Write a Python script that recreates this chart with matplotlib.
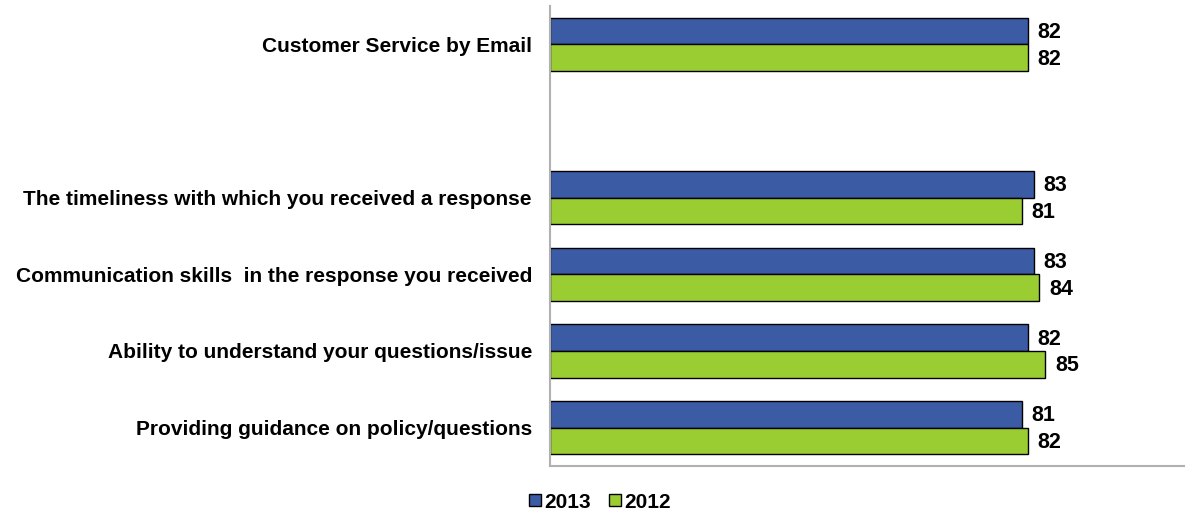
import matplotlib.pyplot as plt
from matplotlib.patches import Patch

categories = ["Customer Service by Email", "",
              "The timeliness with which you received a response",
              "Communication skills  in the response you received",
              "Ability to understand your questions/issue",
              "Providing guidance on policy/questions"]
v2013 = [82, None, 83, 83, 82, 81]
v2012 = [82, None, 81, 84, 85, 82]
series = ["2013", "2012"]
colors = ["#3B5BA5", "#9ACD32"]

plt.rcParams['font.family'] = ['Liberation Sans', 'DejaVu Sans']
fig = plt.figure(figsize=(11.85, 5.12), dpi=100)
ax = fig.add_axes([550/1185, 1-466/512, (1185-550)/1185, (466-6)/512])

h = 0.35
for i, (a, b) in enumerate(zip(v2013, v2012)):
    if a is None:
        continue
    ax.barh(i - h/2, a, height=h, color=colors[0], edgecolor='black', linewidth=1)
    ax.barh(i + h/2, b, height=h, color=colors[1], edgecolor='black', linewidth=1)
    ax.text(a + 1.7, i - h/2 + 0.02, str(a), va='center', ha='left', fontsize=15.5, fontweight='bold')
    ax.text(b + 1.7, i + h/2 + 0.02, str(b), va='center', ha='left', fontsize=15.5, fontweight='bold')

ax.set_ylim(5.5, -0.5)
ax.set_xlim(0, 109)
ax.set_yticks(range(len(categories)))
ax.set_yticklabels(categories, fontsize=15, fontweight='bold')
ax.tick_params(axis='y', length=0, pad=13)
ax.set_xticks([])
for s in ['top', 'right']:
    ax.spines[s].set_visible(False)
for s in ['left', 'bottom']:
    ax.spines[s].set_color('#b0b0b0')
    ax.spines[s].set_linewidth(1.5)

handles = [Patch(facecolor=c, edgecolor='black', linewidth=1) for c in colors]
fig.legend(handles, series, loc='center', bbox_to_anchor=(600/1185, 1-502/512),
           ncol=2, frameon=False, prop={'weight': 'bold', 'size': 15},
           handlelength=0.55, handleheight=0.55, handletextpad=0.15, columnspacing=0.9)

fig.savefig('out.png', dpi=100)
